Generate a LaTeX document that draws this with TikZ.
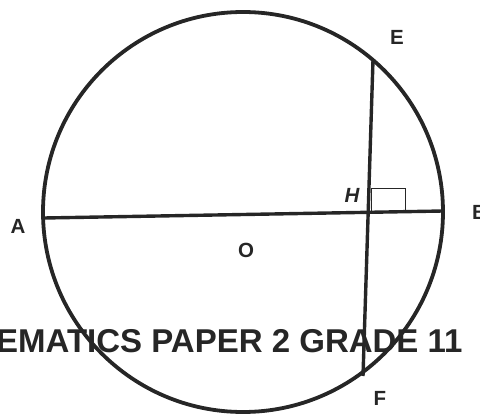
\documentclass[tikz,border=0pt]{standalone}
\usepackage{fontspec}
\setmainfont{Liberation Sans}
\usepackage{xcolor}
\usetikzlibrary{calc,positioning}
\definecolor{inkx}{HTML}{262626}
\tikzset{
  lbl/.style={font=\bfseries\fontsize{20.5}{20.5}\selectfont,text=inkx,inner sep=0pt},
  chord/.style={line width=3.4pt,inkx},
  rim/.style={line width=3.8pt,inkx}
}

\begin{document}
\begin{tikzpicture}[x=1pt,y=-1pt]
\useasboundingbox (0,0) rectangle (480,415);
\node[anchor=west,font=\bfseries\fontsize{33}{33}\selectfont,text=inkx,inner sep=0pt] (hdr) at (-4,341) {EMATICS PAPER 2 GRADE 11};
\draw[rim] (243,212) circle[radius=200pt];
\coordinate (O) at (243,212);
\coordinate (A) at (44,218);
\coordinate (B) at (443,211);
\coordinate (E) at (373,60);
\coordinate (F) at (363,376);
\coordinate (H) at (369.5,211.5);
\draw[chord] (A) -- (B);
\draw[chord] (E) -- (F);
\draw[inkx,line width=1.4pt] ($(H)+(2,0)$) |- ++(34,-23) -- ++(0,23);
\node[lbl] (lA) at (18,226) {A};
\node[lbl] (lO) at (246,250) {O};
\node[lbl,anchor=west] (lB) at (472,212) {B};
\node[lbl] (lE) at (397,37) {E};
\node[lbl] (lF) at (380,398) {F};
\node[lbl,font=\bfseries\itshape\fontsize{20.5}{20.5}\selectfont] (lH) at (352,195) {H};
\end{tikzpicture}
\end{document}
